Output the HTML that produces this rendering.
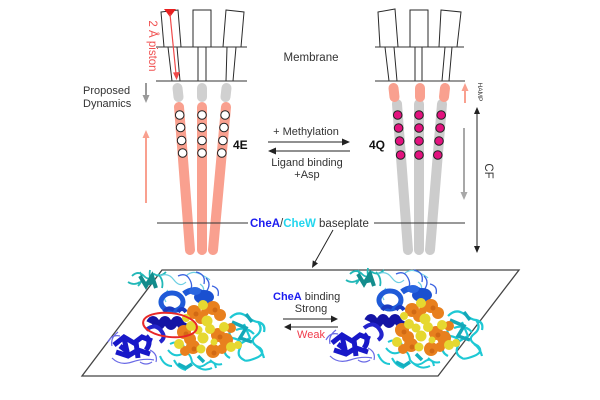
<!DOCTYPE html>
<html><head><meta charset="utf-8"><style>
html,body{margin:0;padding:0;background:#fff;}
svg{display:block;}
text{font-family:"Liberation Sans",Arial,sans-serif;}
</style></head><body>
<svg width="600" height="400" viewBox="0 0 600 400" xmlns="http://www.w3.org/2000/svg">
<rect width="600" height="400" fill="#fff"/>
<defs>
<g id="prot">
  <!-- teal top cluster -->
  <path d="M132,276 q6,-6 12,0 t10,-2 q6,4 12,-2 M140,272 q4,8 -2,14 M150,270 q-2,10 6,16 M158,274 q6,6 4,14 M128,282 q6,4 12,0" stroke="#22b8b8" stroke-width="1.8" fill="none"/>
  <path d="M140,276 l6,10 l6,-10 l4,12 M144,284 l10,-2" stroke="#138c8c" stroke-width="4" fill="none"/>
  <path d="M160,276 q8,-4 14,4 t12,2 M168,290 q-6,6 -2,12 M186,276 q6,-6 14,-2 t10,6 M200,284 q6,4 2,10 M162,296 q-6,6 0,12" stroke="#6ccfe2" stroke-width="1.2" fill="none"/>
  <!-- medium blue loops -->
  <path d="M178,276 q8,-4 12,4 t-2,12 M196,272 q10,2 8,12 M206,278 q6,6 0,14 M212,286 q8,2 6,10" stroke="#3a62e0" stroke-width="1.3" fill="none"/>
  <ellipse cx="172" cy="302" rx="11" ry="9" fill="none" stroke="#1f5ad8" stroke-width="5"/>
  <path d="M184,294 q8,-6 16,-2 t12,4" stroke="#1f5ad8" stroke-width="6" fill="none"/>
  <ellipse cx="204" cy="297" rx="10" ry="7" fill="#1a50d0"/>
  <ellipse cx="195" cy="291" rx="6" ry="4" fill="#2a66e0"/>
  <!-- dark blue helix -->
  <path d="M150,323 q3,-6 6,0 t6,0 t6,0 t6,0 t6,0 t6,0" stroke="#1414a4" stroke-width="8" fill="none"/>
  <path d="M164,312 q4,-6 10,-2 M178,312 q4,-6 8,0" stroke="#1a3ac0" stroke-width="4" fill="none"/>
  <!-- dark blue bottom-left domain -->
  <path d="M114,345 l10,-8 l10,6 l8,-6 l10,4 M116,352 l12,4 l10,-6 l12,4 M124,338 l4,18 M136,342 l2,16 M146,336 q6,6 0,14 M120,346 l8,6" stroke="#1818c8" stroke-width="5" fill="none"/>
  <path d="M112,358 q8,8 20,4 t22,-2 M118,332 q-8,6 -6,14 M150,350 q8,4 6,12 M108,342 q4,-8 12,-6 M140,362 q6,4 12,0" stroke="#6a6ae6" stroke-width="1.2" fill="none"/>
  <path d="M146,330 q10,-8 16,2 q4,6 -2,10" stroke="#2424cc" stroke-width="4" fill="none"/>
  <!-- cyan right domain -->
  <path d="M230,318 q8,-8 16,-2 t12,6 q6,8 -2,14 t4,12 q6,6 -4,10 t-12,2 q-8,-4 -4,-12 t-8,-10 q-6,-6 2,-12 M236,330 q10,-4 18,4 M244,324 l6,14 l-10,6 M256,346 q6,4 8,12 M226,346 q-4,8 4,12 M258,322 q8,2 6,10" stroke="#1ec8d4" stroke-width="2.2" fill="none"/>
  <path d="M232,322 l14,6 l-6,10 l12,4 M246,314 l6,8" stroke="#14a8b8" stroke-width="3.5" fill="none"/>
  <!-- cyan bottom -->
  <path d="M168,350 q6,8 14,4 t10,8 q6,8 14,2 t10,4 M174,360 q4,8 12,10 M196,366 q8,6 16,2 M184,346 q-6,-6 -14,-2 M160,356 q4,10 12,10 M210,360 q6,6 12,4" stroke="#1ec8d4" stroke-width="2" fill="none"/>
  <path d="M178,364 l8,4 l6,-4 M198,356 l6,6" stroke="#14b0c0" stroke-width="3.5" fill="none"/>
  <!-- orange / yellow spheres -->
  <g fill="#e8801e">
    <circle cx="194" cy="312" r="7"/><circle cx="201" cy="318" r="6"/>
    <circle cx="213" cy="308" r="7"/><circle cx="220" cy="315" r="6"/>
    <circle cx="184" cy="332" r="7"/><circle cx="190" cy="339" r="6"/>
    <circle cx="193" cy="347" r="7"/><circle cx="185" cy="351" r="5"/>
    <circle cx="218" cy="335" r="7"/><circle cx="226" cy="340" r="7"/>
    <circle cx="213" cy="351" r="7"/><circle cx="222" cy="349" r="5"/>
    <circle cx="231" cy="328" r="5"/><circle cx="205" cy="312" r="4"/>
  </g>
  <g fill="#e6d830">
    <circle cx="203" cy="305" r="5"/><circle cx="207" cy="321" r="5.5"/>
    <circle cx="210" cy="329" r="5"/><circle cx="191" cy="326" r="5"/>
    <circle cx="198" cy="330" r="4.5"/><circle cx="179" cy="344" r="5"/>
    <circle cx="203" cy="338" r="5.5"/><circle cx="231" cy="347" r="5"/>
    <circle cx="224" cy="327" r="5"/><circle cx="238" cy="345" r="4"/>
    <circle cx="201" cy="349" r="4.5"/><circle cx="186" cy="318" r="4"/>
    <circle cx="214" cy="342" r="3.5"/>
  </g>
  <g fill="#c86010" opacity="0.7">
    <circle cx="196" cy="314" r="2.5"/><circle cx="215" cy="310" r="2.5"/>
    <circle cx="186" cy="334" r="2.5"/><circle cx="220" cy="337" r="2.5"/>
    <circle cx="214" cy="353" r="2.5"/><circle cx="194" cy="349" r="2.5"/>
  </g>
</g>
</defs>

<!-- ===== LEFT TOP ===== -->
<g stroke="#2a2a2a" stroke-width="1" fill="#fff">
  <polygon points="161,12 178,10 181,47 164,47"/>
  <polygon points="193,10 211,10 211,47 193,47"/>
  <polygon points="226,10 244,12 241,47 223,47"/>
  <polygon points="168,47 177,47 180,81 172,81"/>
  <polygon points="198,47 206,47 206,81 198,81"/>
  <polygon points="227,47 236,47 233,81 226,81"/>
</g>
<line x1="156" y1="47" x2="247" y2="47" stroke="#333" stroke-width="1"/>
<line x1="156" y1="81" x2="247" y2="81" stroke="#333" stroke-width="1"/>
<!-- piston -->
<polygon points="164,9 176,9 170,17" fill="#e82020"/>
<line x1="170" y1="14" x2="176" y2="74" stroke="#f04848" stroke-width="1.2"/>
<polygon points="176.6,80 173,72.5 180,72" fill="#f04848"/>
<text x="149" y="46" font-size="11.5" fill="#f05050" text-anchor="middle" transform="rotate(90 149 46)">2 Å piston</text>

<!-- left HAMP grey -->
<g stroke="#d0d0d0" stroke-width="10" stroke-linecap="round">
  <line x1="177.5" y1="88" x2="178.5" y2="97"/>
  <line x1="202" y1="88" x2="202" y2="97"/>
  <line x1="226.5" y1="88" x2="225.5" y2="97"/>
</g>
<!-- left salmon rods -->
<g stroke="#f9a08f" stroke-width="10" stroke-linecap="round">
  <line x1="179" y1="107" x2="190" y2="250"/>
  <line x1="202" y1="107" x2="202" y2="250"/>
  <line x1="226" y1="107" x2="213" y2="250"/>
</g>
<g fill="#fff" stroke="#222" stroke-width="1">
  <circle cx="179.7" cy="115" r="4.3"/><circle cx="202" cy="115" r="4.3"/><circle cx="225.1" cy="115" r="4.3"/>
  <circle cx="180.6" cy="127.5" r="4.3"/><circle cx="202" cy="127.5" r="4.3"/><circle cx="224" cy="127.5" r="4.3"/>
  <circle cx="181.6" cy="140.5" r="4.3"/><circle cx="202" cy="140.5" r="4.3"/><circle cx="222.9" cy="140.5" r="4.3"/>
  <circle cx="182.6" cy="153" r="4.3"/><circle cx="202" cy="153" r="4.3"/><circle cx="221.8" cy="153" r="4.3"/>
</g>
<text x="233" y="149" font-size="12" font-weight="bold" fill="#111">4E</text>

<!-- proposed dynamics -->
<text x="83" y="94" font-size="11" fill="#333">Proposed</text>
<text x="83" y="107" font-size="11" fill="#333">Dynamics</text>
<line x1="146" y1="83" x2="146" y2="96" stroke="#9a9a9a" stroke-width="2"/>
<polygon points="146,103 142.5,95 149.5,95" fill="#9a9a9a"/>
<line x1="146" y1="203" x2="146" y2="137" stroke="#f9a08f" stroke-width="2"/>
<polygon points="146,130 142.5,138 149.5,138" fill="#f9a08f"/>

<!-- membrane label -->
<text x="311" y="61" font-size="11.5" fill="#333" text-anchor="middle">Membrane</text>

<!-- middle arrows -->
<text x="306" y="135" font-size="11" fill="#333" text-anchor="middle">+ Methylation</text>
<line x1="268" y1="142" x2="344" y2="142" stroke="#222" stroke-width="1.1"/>
<polygon points="350,142 342,138.5 342,145.5" fill="#222"/>
<line x1="274" y1="151" x2="350" y2="151" stroke="#222" stroke-width="1.1"/>
<polygon points="268,151 276,147.5 276,154.5" fill="#222"/>
<text x="307" y="166" font-size="11" fill="#333" text-anchor="middle">Ligand binding</text>
<text x="307" y="178" font-size="11" fill="#333" text-anchor="middle">+Asp</text>

<!-- ===== RIGHT TOP ===== -->
<g stroke="#2a2a2a" stroke-width="1" fill="#fff">
  <polygon points="378,12 395,9 398,47 380,47"/>
  <polygon points="410,10 428,10 428,47 410,47"/>
  <polygon points="441,10 461,12 457,47 439,47"/>
  <polygon points="385,47 394,47 397,81 389,81"/>
  <polygon points="415,47 422,47 422,81 415,81"/>
  <polygon points="445,47 452,47 449,81 442,81"/>
</g>
<line x1="375" y1="47" x2="464" y2="47" stroke="#333" stroke-width="1"/>
<line x1="375" y1="81" x2="465" y2="81" stroke="#333" stroke-width="1"/>

<!-- right grey rods -->
<g stroke="#cccccc" stroke-width="10" stroke-linecap="round">
  <line x1="397" y1="104" x2="408" y2="250"/>
  <line x1="419" y1="104" x2="419" y2="250"/>
  <line x1="442" y1="104" x2="430" y2="250"/>
</g>
<!-- right HAMP salmon -->
<g stroke="#f9a08f" stroke-width="10" stroke-linecap="round">
  <line x1="393.5" y1="88" x2="394.5" y2="97"/>
  <line x1="420" y1="88" x2="420" y2="97"/>
  <line x1="445" y1="88" x2="444" y2="97"/>
</g>
<g fill="#e2127e" stroke="#222" stroke-width="1">
  <circle cx="397.7" cy="115" r="4.3"/><circle cx="419" cy="115" r="4.3"/><circle cx="441.2" cy="115" r="4.3"/>
  <circle cx="398.6" cy="128" r="4.3"/><circle cx="419" cy="128" r="4.3"/><circle cx="440.1" cy="128" r="4.3"/>
  <circle cx="399.6" cy="141" r="4.3"/><circle cx="419" cy="141" r="4.3"/><circle cx="439" cy="141" r="4.3"/>
  <circle cx="400.6" cy="155" r="4.3"/><circle cx="419" cy="155" r="4.3"/><circle cx="437.8" cy="155" r="4.3"/>
</g>
<text x="369" y="149" font-size="12" font-weight="bold" fill="#111">4Q</text>

<!-- right dynamics arrows -->
<line x1="465" y1="103" x2="465" y2="90" stroke="#f9a08f" stroke-width="2"/>
<polygon points="465,83 461.5,91 468.5,91" fill="#f9a08f"/>
<line x1="464" y1="128" x2="464" y2="193" stroke="#a8a8a8" stroke-width="2"/>
<polygon points="464,200 460.5,192 467.5,192" fill="#a8a8a8"/>
<text x="478" y="92" font-size="6.5" fill="#333" text-anchor="middle" transform="rotate(90 478 92)">HAMP</text>
<line x1="477" y1="112" x2="477" y2="249" stroke="#222" stroke-width="1"/>
<polygon points="477,107 474,114 480,114" fill="#222"/>
<polygon points="477,253 474,246 480,246" fill="#222"/>
<text x="485" y="171" font-size="11.5" fill="#333" text-anchor="middle" transform="rotate(90 485 171)">CF</text>

<!-- baseplate -->
<line x1="157" y1="223" x2="248" y2="223" stroke="#333" stroke-width="1"/>
<text x="250" y="227" font-size="11.5" fill="#333"><tspan font-weight="bold" fill="#1c1cf0">CheA</tspan><tspan fill="#333">/</tspan><tspan font-weight="bold" fill="#22d6ee">CheW</tspan> baseplate</text>
<line x1="374" y1="223" x2="465" y2="223" stroke="#333" stroke-width="1"/>
<line x1="333" y1="230" x2="315" y2="262" stroke="#222" stroke-width="1"/>
<polygon points="312,268 318,263.4 312.8,260.4" fill="#222"/>

<!-- parallelogram -->
<polygon points="162,270 519,270 438,376 82,376" fill="#fff" stroke="#444" stroke-width="1.3"/>

<!-- proteins -->
<use href="#prot"/>
<ellipse cx="170" cy="325" rx="27" ry="12" transform="rotate(6 170 325)" fill="none" stroke="#e82828" stroke-width="2"/>
<use href="#prot" transform="translate(218,-2)"/>

<!-- bottom text -->
<text x="273" y="300" font-size="11" fill="#333"><tspan font-weight="bold" fill="#1c1cf0">CheA</tspan> binding</text>
<text x="311" y="312" font-size="11" fill="#333" text-anchor="middle">Strong</text>
<line x1="283" y1="319" x2="332" y2="319" stroke="#222" stroke-width="1"/>
<polygon points="338,319 331,315.5 331,322.5" fill="#222"/>
<line x1="290" y1="327" x2="338" y2="327" stroke="#222" stroke-width="1"/>
<polygon points="284,327 291,323.5 291,330.5" fill="#222"/>
<text x="311" y="338" font-size="11" fill="#f03a4a" text-anchor="middle">Weak</text>
</svg>
</body></html>
